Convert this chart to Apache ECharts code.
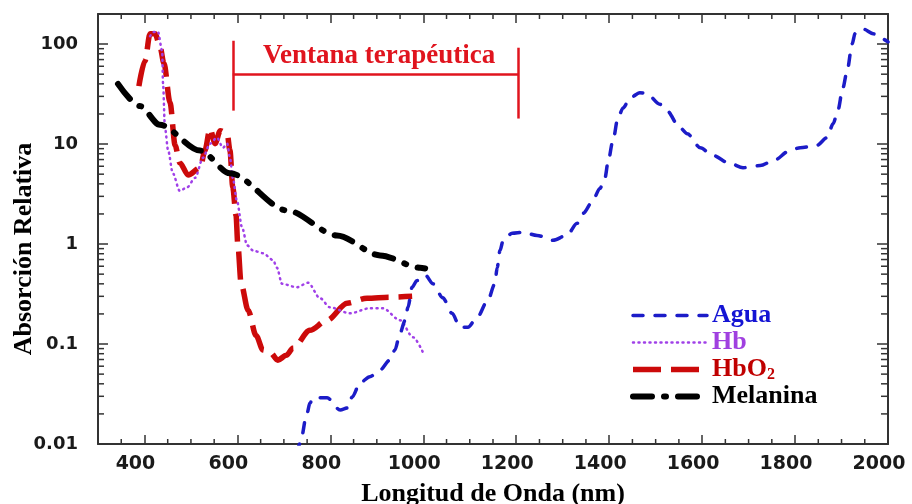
<!DOCTYPE html>
<html><head><meta charset="utf-8">
<script src="https://cdn.jsdelivr.net/npm/echarts@6/dist/echarts.min.js"></script>
<style>html,body{margin:0;padding:0;background:#fff}#chart{width:912px;height:504px}</style>
</head><body><div id="chart"></div>
<script>
// ---------- data ----------
const aguaNm  = [728, 735, 750, 756, 763, 793, 821, 838, 847, 864, 885, 907, 928, 939, 950, 961, 967, 976, 986, 1004, 1021, 1042, 1062, 1079, 1096, 1116, 1139, 1154, 1159, 1165, 1172, 1191, 1215, 1245, 1279, 1309, 1331, 1344, 1363, 1380, 1391, 1398, 1408, 1419, 1430, 1445, 1466, 1481, 1509, 1524, 1552, 1568, 1596, 1623, 1660, 1688, 1725, 1753, 1789, 1811, 1847, 1869, 1882, 1892, 1903, 1912, 1923, 1929, 1946, 1968, 1987, 2000];
const aguaVal = [0.008, 0.0102, 0.0204, 0.0257, 0.029, 0.029, 0.0219, 0.023, 0.0296, 0.041, 0.047, 0.055, 0.069, 0.087, 0.129, 0.173, 0.233, 0.37, 0.43, 0.49, 0.40, 0.29, 0.203, 0.147, 0.147, 0.185, 0.274, 0.40, 0.58, 0.86, 1.09, 1.28, 1.31, 1.22, 1.09, 1.22, 1.61, 2.03, 2.61, 3.6, 4.6, 6.8, 10.8, 18.4, 23, 29, 32.7, 32, 25, 21.6, 14.6, 12.7, 9.2, 7.7, 6.4, 5.8, 6.1, 6.8, 8.6, 9.2, 9.7, 11.6, 16, 21.6, 36.6, 54, 101, 127, 142, 127, 113, 105];

const hbNm  = [412, 420, 429, 438, 440, 444, 451, 461, 476, 492, 509, 526, 541, 556, 569, 578, 584, 590, 599, 610, 621, 634, 655, 677, 685, 696, 728, 752, 778, 799, 842, 885, 913, 950, 978, 999];
const hbVal = [120, 132, 133, 86, 40, 14.6, 8.6, 5.1, 3.4, 3.7, 4.6, 7.3, 10.1, 11.6, 9.2, 10.1, 7.3, 4.6, 2.7, 1.47, 0.97, 0.86, 0.81, 0.69, 0.58, 0.40, 0.37, 0.41, 0.287, 0.233, 0.203, 0.228, 0.228, 0.173, 0.117, 0.083];

const hbo2Nm  = [388, 401, 412, 423, 433, 442, 455, 466, 476, 494, 520, 530, 541, 552, 563, 578, 584, 590, 597, 601, 608, 623, 640, 655, 670, 687, 705, 720, 756, 793, 836, 879, 928, 976];
const hbo2Val = [38, 68, 127, 127, 96, 64, 26, 9.7, 6.5, 4.9, 5.8, 8.6, 14.3, 10.1, 13.6, 12.7, 8.6, 3.7, 1.94, 0.97, 0.40, 0.218, 0.122, 0.087, 0.083, 0.069, 0.077, 0.091, 0.137, 0.173, 0.256, 0.287, 0.294, 0.30];

const melNm  = [343, 390, 433, 520, 584, 707, 814, 907, 993, 1004];
const melVal = [40, 24, 15.6, 8.6, 5.1, 2.17, 1.22, 0.77, 0.58, 0.57];

const xMajorTicks = [400, 600, 800, 1000, 1200, 1400, 1600, 1800, 2000];
const xTickLabels = ['400', '600', '800', '1000', '1200', '1400', '1600', '1800', '2000'];
const yMajorTicks = [0.01, 0.1, 1, 10, 100];
const yTickLabels = ['0.01', '0.1', '1', '10', '100'];

const seriesNames = ['Agua', 'Hb', 'HbO2', 'Melanina'];
const xTitle = 'Longitud de Onda (nm)';
const yTitle = 'Absorción Relativa';
const windowLabel = 'Ventana terapéutica';
const windowStartNm = 590, windowEndNm = 1205;
const windowLeftTop = 108, windowLeftBottom = 21.6;
const windowRightTop = 92, windowRightBottom = 18;
const windowBarValue = 49.4;
const windowLabelPos = [905, 76];

// ---------- helpers ----------
const pairs = (xs, ys) => xs.map((x, i) => [x, ys[i]]);
const xMinorTicks = [];
for (let v = 350; v < 2000; v += 50) if (v % 200 !== 0) xMinorTicks.push(v);
const yMinorTicks = [];
[0.01, 0.1, 1, 10].forEach(d => { for (let m = 2; m <= 9; m++) yMinorTicks.push(parseFloat((m * d).toPrecision(3))); });

const SERIF = "'Liberation Serif','Times New Roman',serif";
const SANS = "'DejaVu Sans',sans-serif";
const AX = '#333';
const X_MIN = 300, X_MAX = 2000, Y_MIN = 0.01, Y_MAX = 200;

function xAx(pos, len) {
  return {
    type: 'value', position: pos, min: X_MIN, max: X_MAX,
    axisLine: { show: true, onZero: false, lineStyle: { color: AX, width: 2 } },
    axisTick: { show: true, inside: true, length: len, customValues: xMajorTicks, lineStyle: { color: AX, width: 1.5 } },
    axisLabel: { show: false }, splitLine: { show: false }
  };
}
function yAx(pos, len) {
  return {
    type: 'log', logBase: 10, position: pos, min: Y_MIN, max: Y_MAX,
    axisLine: { show: true, onZero: false, lineStyle: { color: AX, width: 2 } },
    axisTick: { show: true, inside: true, length: len, customValues: yMajorTicks, lineStyle: { color: AX, width: 1.5 } },
    axisLabel: { show: false }, splitLine: { show: false }, minorSplitLine: { show: false }
  };
}

const xMain = xAx('bottom', 9);
xMain.axisLabel = {
  show: true, customValues: xMajorTicks,
  formatter: v => { const i = xMajorTicks.indexOf(v); return i >= 0 ? xTickLabels[i] : String(v); },
  margin: 11, padding: [0, 18, 0, 0],
  fontFamily: SANS, fontWeight: 'bold', fontSize: 19, color: '#1a1a1a'
};
xMain.name = xTitle; xMain.nameLocation = 'middle'; xMain.nameGap = 37; xMain.nameMoveOverlap = false;
xMain.nameTextStyle = { fontFamily: SERIF, fontWeight: 'bold', fontSize: 26, color: '#000' };

const yMain = yAx('left', 10);
yMain.axisLabel = {
  show: true, customValues: yMajorTicks,
  formatter: v => { const i = yMajorTicks.findIndex(t => Math.abs(Math.log10(t) - Math.log10(v)) < 1e-6); return i >= 0 ? yTickLabels[i] : ''; },
  margin: 20, fontFamily: SANS, fontWeight: 'bold', fontSize: 18, color: '#1a1a1a'
};
yMain.name = yTitle; yMain.nameLocation = 'middle'; yMain.nameGap = 61; yMain.nameRotate = 90; yMain.nameMoveOverlap = false;
yMain.nameTextStyle = { fontFamily: SERIF, fontWeight: 'bold', fontSize: 26, color: '#000', padding: [0, 40, 0, 0] };

// minor tick marks, placed through the axes' own scales (api.coord)
const minorTickData = xMinorTicks.map(v => [v, Y_MIN, 0]).concat(yMinorTicks.map(v => [X_MIN, v, 1]));
function renderMinorTick(params, api) {
  const kind = api.value(2);
  const st = { stroke: AX, lineWidth: 1.5 };
  if (kind === 0) {
    const v = api.value(0);
    const b = api.coord([v, Y_MIN]), t = api.coord([v, Y_MAX]);
    return { type: 'group', children: [
      { type: 'line', shape: { x1: b[0], y1: b[1], x2: b[0], y2: b[1] - 5 }, style: st },
      { type: 'line', shape: { x1: t[0], y1: t[1], x2: t[0], y2: t[1] + 5 }, style: st }
    ] };
  }
  const v = api.value(1);
  const l = api.coord([X_MIN, v]), r = api.coord([X_MAX, v]);
  return { type: 'group', children: [
    { type: 'line', shape: { x1: l[0], y1: l[1], x2: l[0] + 6, y2: l[1] }, style: st },
    { type: 'line', shape: { x1: r[0], y1: r[1], x2: r[0] - 7, y2: r[1] }, style: st }
  ] };
}

const chart = echarts.init(document.getElementById('chart'), null, { renderer: 'canvas' });
chart.setOption({
  animation: false,
  backgroundColor: '#fff',
  grid: { left: 98, right: 24, top: 14, bottom: 60, containLabel: false, outerBoundsMode: 'none', show: false },
  xAxis: [xMain, xAx('top', 9)],
  yAxis: [yMain, yAx('right', 11)],
  legend: {
    orient: 'vertical', left: 630, top: 302, padding: 0, itemWidth: 74, itemHeight: 14, itemGap: 0, selectedMode: false,
    itemStyle: { opacity: 0, borderWidth: 0 },
    data: [
      { name: 'Agua', textStyle: { color: '#1414d4' } },
      { name: 'Hb', textStyle: { color: '#a040e0' } },
      { name: 'HbO2', textStyle: { color: '#c00000' } },
      { name: 'Melanina', textStyle: { color: '#000' } }
    ],
    formatter: n => n === 'HbO2' ? '{m|HbO}{s|2}' : n,
    textStyle: {
      fontFamily: SERIF, fontWeight: 'bold', fontSize: 26, lineHeight: 27,
      rich: {
        m: { color: '#c00000', fontFamily: SERIF, fontWeight: 'bold', fontSize: 26, lineHeight: 27 },
        s: { color: '#c00000', fontFamily: SERIF, fontWeight: 'bold', fontSize: 16, lineHeight: 16, verticalAlign: 'bottom', padding: [10, 0, 0, 0] }
      }
    },
    lineStyle: { width: 'inherit' }
  },
  series: [
    { name: 'HbO2', type: 'line', data: pairs(hbo2Nm, hbo2Val), symbol: 'none', showSymbol: false, smooth: 0.3, smoothMonotone: 'x',
      color: '#cc0a0a', lineStyle: { color: '#cc0a0a', width: 5.5, type: [28, 10] }, z: 2 },
    { name: 'Hb', type: 'line', data: pairs(hbNm, hbVal), symbol: 'none', showSymbol: false, smooth: 0.3, smoothMonotone: 'x',
      color: '#a040e8', lineStyle: { color: '#a040e8', width: 2.5, type: [1, 4.5], cap: 'round' }, z: 3 },
    { name: 'Agua', type: 'line', data: pairs(aguaNm, aguaVal), symbol: 'none', showSymbol: false, smooth: 0.3, smoothMonotone: 'x',
      color: '#1c1cc8', lineStyle: { color: '#1c1cc8', width: 3.5, type: [10, 12], cap: 'round' }, z: 4 },
    { name: 'Melanina', type: 'line', data: pairs(melNm, melVal), symbol: 'none', showSymbol: false, smooth: 0.3, smoothMonotone: 'x',
      color: '#000', lineStyle: { color: '#000', width: 6, type: [19, 12, 2, 12], cap: 'round' }, z: 5 },
    { name: 'Ventana', type: 'line', data: [[windowStartNm, windowBarValue]], symbol: 'none', showSymbol: false,
      lineStyle: { width: 0 }, z: 6,
      markLine: {
        silent: true, symbol: ['none', 'none'], label: { show: false },
        lineStyle: { color: '#e0141e', width: 2.5, type: 'solid' },
        data: [
          [{ coord: [windowStartNm, windowLeftTop] }, { coord: [windowStartNm, windowLeftBottom] }],
          [{ coord: [windowEndNm, windowRightTop] }, { coord: [windowEndNm, windowRightBottom] }],
          [{ coord: [windowStartNm, windowBarValue] }, { coord: [windowEndNm, windowBarValue] }]
        ]
      },
      markPoint: {
        silent: true, symbol: 'rect', symbolSize: 1, itemStyle: { color: 'rgba(0,0,0,0)' },
        label: { show: true, position: 'inside', formatter: windowLabel, fontFamily: SERIF, fontWeight: 'bold', fontSize: 27, color: '#e0141e' },
        data: [{ coord: windowLabelPos }]
      }
    },
    { name: 'minorTicks', type: 'custom', silent: true, clip: false, z: 10,
      encode: { x: 0, y: 1 }, data: minorTickData, renderItem: renderMinorTick }
  ]
});
</script></body></html>
